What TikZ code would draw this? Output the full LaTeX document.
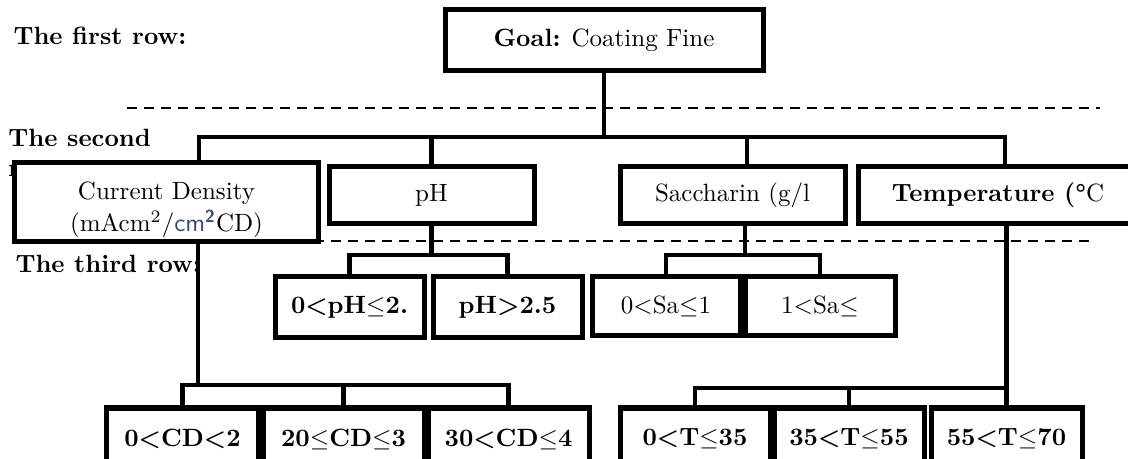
\documentclass[tikz,border=0pt]{standalone}
\usepackage{amsmath,amssymb}
\usepackage{xcolor}
\definecolor{pastedcm}{RGB}{55,75,115}

\begin{document}
\begin{tikzpicture}[x=0.4pt,y=-0.4pt,
  box/.style={draw,line width=2pt,fill=white,inner sep=0pt,align=center},
  link/.style={line width=1.8pt},
  rowline/.style={line width=0.6pt,dash pattern=on 4pt off 2.8pt},
  rowlabel/.style={anchor=west,inner sep=0pt,font=\bfseries,align=left}]
\useasboundingbox (0,0) rectangle (1128,459);
\clip (0,0) rectangle (1128,459);
% row labels and separators
\node[rowlabel] (first) at (13,36) {The first row:};
\node[rowlabel,anchor=north west] (second) at (8,129) {The second\\row:};
\node[rowlabel] (third) at (15,264) {The third row:};
\draw[rowline] (127,108) -- (1100,108);
\draw[rowline] (127,241) -- (1093,241);
% first row
\node[box,minimum width=127.2pt,minimum height=24.4pt] (goal) at (604,40.5) {\textbf{Goal:} Coating Fine};
% second row
\node[box,minimum width=121.2pt,minimum height=31.6pt] (cd) at (166.5,202.5) {\rule{0pt}{13pt}Current Density\\[0.8pt](mAcm\textsuperscript{2}/{\color{pastedcm}\sffamily cm\textsuperscript{\bfseries 2}}CD)};
\node[box,minimum width=82pt,minimum height=22.8pt] (ph) at (431.5,195.5) {pH};
\node[box,minimum width=90pt,minimum height=22.8pt] (sac) at (732.5,195.5) {Saccharin (g/l};
\node[box,minimum width=112pt,minimum height=22.8pt] (temp) at (998,195.5) {\textbf{Temperature (\textdegree}C};
% third row
\node[box,minimum width=59.6pt,minimum height=24pt] (ph1) at (349.5,307) {\textbf{0<pH$\le$2.}};
\node[box,minimum width=59.6pt,minimum height=24pt] (ph2) at (507.5,307) {\textbf{pH>2.5}};
\node[box,minimum width=59.2pt,minimum height=23.2pt] (sa1) at (666,306) {0<Sa$\le$1};
\node[box,minimum width=60pt,minimum height=23.2pt] (sa2) at (820,306) {1<Sa$\le$};
\node[box,minimum width=60.4pt,minimum height=24.8pt] (cd1) at (182.5,439) {\textbf{0<CD<2}};
\node[box,minimum width=64.4pt,minimum height=24.8pt] (cd2) at (343.5,439) {\textbf{20$\le$CD$\le$3}};
\node[box,minimum width=64.4pt,minimum height=24.8pt] (cd3) at (508.5,439) {\textbf{30<CD$\le$4}};
\node[box,minimum width=60pt,minimum height=24.8pt] (t1) at (695,439) {\textbf{0<T$\le$35}};
\node[box,minimum width=60pt,minimum height=24.8pt] (t2) at (849,439) {\textbf{35<T$\le$55}};
\node[box,minimum width=60.4pt,minimum height=24.8pt] (t3) at (1006.5,439) {\textbf{55<T$\le$70}};
% goal to criteria
\coordinate (busL) at (199,137);
\coordinate (busR) at (1005,137);
\coordinate (sacTop) at (747,137);
\draw[link] (goal) -- (goal |- busL);
\draw[link] (cd.north -| busL) -- (busL) -- (busR) -- (temp.north -| busR);
\draw[link] (ph) -- (ph |- busL);
\draw[link] (sac.north -| sacTop) -- (sacTop);
% criteria to sub-criteria
\coordinate (phJ) at (431.5,255);
\draw[link] (ph) -- (phJ);
\draw[link] (ph1.north) |- (phJ) -| (ph2.north);
\coordinate (saJ) at (745,255);
\draw[link] (sac.south -| saJ) -- (saJ);
\draw[link] (sa1.north) |- (saJ) -| (sa2.north);
\coordinate (cdJ) at (198,385);
\draw[link] (cd.south -| cdJ) -- (cdJ);
\draw[link] (cd1.north) |- (cdJ) -| (cd3.north);
\draw[link] (cd2) -- (cd2 |- cdJ);
\coordinate (tJ) at (1006.5,388);
\draw[link] (temp.south -| tJ) -- (t3.north);
\draw[link] (t1.north) |- (tJ);
\draw[link] (t2) -- (t2 |- tJ);
\end{tikzpicture}
\end{document}
